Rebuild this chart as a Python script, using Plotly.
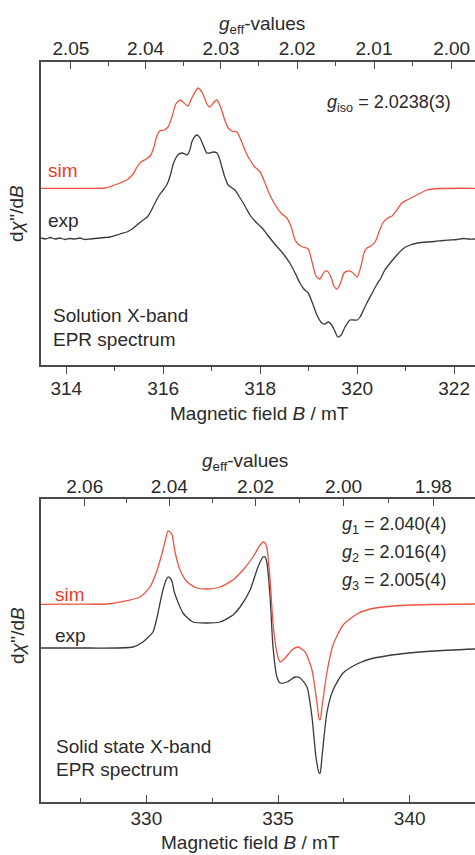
import plotly.graph_objects as go

W, H = 475, 855

# ---------------- Solution X-band spectrum (top panel) ----------------
sol_field_sim = [313.48, 314.28, 314.80, 314.94, 315.11, 315.25, 315.38, 315.46, 315.54, 315.65,
                 315.73, 315.81, 315.87, 315.93, 316.02, 316.10, 316.18, 316.26, 316.35, 316.43,
                 316.51, 316.59, 316.72, 316.82, 316.90, 316.96, 317.05, 317.11, 317.19, 317.27,
                 317.34, 317.42, 317.52, 317.62, 317.71, 317.79, 317.89, 318.00, 318.10, 318.20,
                 318.35, 318.45, 318.55, 318.64, 318.72, 318.80, 318.88, 318.99, 319.07, 319.15,
                 319.23, 319.32, 319.38, 319.46, 319.52, 319.58, 319.65, 319.73, 319.81, 319.89,
                 320.00, 320.08, 320.14, 320.20, 320.28, 320.37, 320.45, 320.53, 320.63, 320.72,
                 320.82, 320.92, 321.03, 321.19, 321.44, 321.71, 322.43]
sol_sim = [49.7, 49.7, 50, 52, 55, 58, 64, 71, 76, 79,
           82, 91, 102, 107, 108, 111, 121, 134, 138, 135,
           132, 140, 150, 144, 134, 131, 136, 138, 130, 118,
           110, 107, 106, 96, 85, 78, 71, 66, 55, 43,
           30, 24, 20, 11, -2, -7, -9, -11, -24, -38,
           -41, -34, -33, -39, -48, -51, -46, -35, -33, -34,
           -39, -28, -15, -10, -8, -4, 6, 15, 20, 22,
           28, 35, 38, 42, 48, 49.5, 49.7]

sol_field_exp = [313.48, 313.58, 313.67, 313.77, 313.87, 313.97, 314.08, 314.18, 314.28, 314.39,
                 314.49, 314.59, 314.70, 314.80, 314.90, 315.01, 315.11, 315.25, 315.36, 315.46,
                 315.56, 315.67, 315.75, 315.83, 315.91, 316.00, 316.06, 316.10, 316.16, 316.20,
                 316.26, 316.30, 316.39, 316.45, 316.49, 316.55, 316.59, 316.66, 316.70, 316.76,
                 316.84, 316.90, 316.96, 317.03, 317.11, 317.17, 317.21, 317.27, 317.34, 317.42,
                 317.48, 317.56, 317.65, 317.73, 317.79, 317.89, 318.04, 318.12, 318.20, 318.30,
                 318.41, 318.51, 318.61, 318.72, 318.82, 318.90, 318.99, 319.07, 319.17, 319.27,
                 319.34, 319.40, 319.46, 319.54, 319.60, 319.67, 319.75, 319.85, 319.93, 320.00,
                 320.06, 320.14, 320.20, 320.31, 320.41, 320.49, 320.57, 320.68, 320.82, 320.94,
                 321.09, 321.25, 321.44, 321.60, 321.77, 321.91, 322.06, 322.18, 322.31, 322.43]
sol_exp = [0, -1, 0.5, -1, 0, -1.5, -0.5, -1, 0, -1.5,
           -1, -0.5, 0, 0.5, 1, 2.5, 4, 6, 9, 13,
           17, 21, 27, 35, 42, 48, 52, 56, 65, 73,
           80, 83, 85, 84, 83, 88, 96, 102, 103, 100,
           91, 85, 85, 86, 85, 78, 71, 61, 53, 50,
           48, 42, 35, 28, 23, 17, 10, 5, 0, -6,
           -12, -18, -25, -35, -45, -51, -55, -64, -77, -85,
           -86, -84, -86, -93, -99, -97, -89, -82, -82, -82,
           -79, -71, -65, -55, -46, -40, -32, -25, -17, -11,
           -7, -5, -4, -3.5, -2.5, -2, -1.5, -0.5, -1, -1]

# ---------------- Solid state X-band spectrum (bottom panel) ----------------
ss_field_sim = [326.00, 327.48, 328.51, 329.27, 329.76, 330.14, 330.41, 330.60, 330.75, 330.82,
                330.90, 330.98, 331.09, 331.28, 331.55, 331.92, 332.30, 332.80, 333.29, 333.67,
                334.05, 334.32, 334.43, 334.51, 334.58, 334.70, 334.81, 334.96, 335.08, 335.27,
                335.53, 335.76, 336.03, 336.29, 336.48, 336.56, 336.60, 336.67, 336.86, 337.09,
                337.47, 338.00, 338.50, 339.37, 340.77, 342.48]
ss_sim = [43.7, 43.8, 44, 47.3, 51, 61, 78, 95, 111, 117,
          116, 113, 96, 78, 66, 60, 59, 61, 68, 78,
          91, 103, 106, 105, 100, 68, 25, -5, -14, -10,
          -2, 1, -4, -22, -55, -71, -72, -59, -24, 3,
          23, 34, 39, 42, 43.5, 44]

ss_field_exp = [326.00, 327.48, 329.49, 329.87, 330.25, 330.41, 330.52, 330.63, 330.75, 330.82,
                330.90, 330.98, 331.05, 331.17, 331.39, 331.77, 332.30, 332.80, 333.29, 333.56,
                333.94, 334.24, 334.43, 334.51, 334.58, 334.70, 334.81, 334.96, 335.08, 335.34,
                335.65, 335.84, 336.10, 336.29, 336.44, 336.56, 336.60, 336.67, 336.86, 337.09,
                337.47, 338.00, 338.50, 339.63, 340.89, 342.48]
ss_exp = [0, 0, 1, 6, 16, 31, 45, 58, 68, 71,
          70, 66, 57, 48, 35, 26, 25, 26, 33, 41,
          58, 81, 91, 91, 85, 51, 1, -29, -35, -34,
          -29, -30, -39, -69, -109, -125, -125, -109, -64, -42,
          -25, -16, -11, -6, -3, -1]

# ---------------- g-value axes ----------------
sol_g_major = [2.05, 2.04, 2.03, 2.02, 2.01, 2.00]
sol_g_minor = [2.045, 2.035, 2.025, 2.015, 2.005]
ss_g_major = [2.06, 2.04, 2.02, 2.00, 1.98]
ss_g_minor = [2.05, 2.03, 2.01, 1.99]
nu_sol = 9.012   # GHz
nu_ss = 9.447    # GHz
MUB_OVER_H = 13.996  # GHz/T


def g_to_field(g, nu):
    return 1000.0 * nu / (MUB_OVER_H * g)


sol_range = [313.48, 322.43]
ss_range = [326.0, 342.48]

SIM = "#f0533f"
SIM_TXT = "#ea3a2c"
EXP = "#3a3a3a"
AX = "#4a4a4a"
TXT = "#2a2a2a"
FONT = "Liberation Sans, Arial, sans-serif"
FS = 19


def px(x):
    return x / W


def py(y):
    return 1 - y / H


fig = go.Figure()
ls = dict(width=1.3, shape="spline", smoothing=0.6)
fig.add_trace(go.Scatter(x=sol_field_exp, y=sol_exp, mode="lines", line=dict(color=EXP, **ls),
                         xaxis="x", yaxis="y", showlegend=False))
fig.add_trace(go.Scatter(x=sol_field_sim, y=sol_sim, mode="lines", line=dict(color=SIM, **ls),
                         xaxis="x", yaxis="y", showlegend=False))
fig.add_trace(go.Scatter(x=sol_range, y=[None, None], mode="lines", xaxis="x2", yaxis="y",
                         showlegend=False, hoverinfo="skip"))
fig.add_trace(go.Scatter(x=ss_field_exp, y=ss_exp, mode="lines", line=dict(color=EXP, **ls),
                         xaxis="x3", yaxis="y2", showlegend=False))
fig.add_trace(go.Scatter(x=ss_field_sim, y=ss_sim, mode="lines", line=dict(color=SIM, **ls),
                         xaxis="x3", yaxis="y2", showlegend=False))
fig.add_trace(go.Scatter(x=ss_range, y=[None, None], mode="lines", xaxis="x4", yaxis="y2",
                         showlegend=False, hoverinfo="skip"))

xdom = [41 / W, 1]
common = dict(showline=True, linecolor=AX, linewidth=1.6, showgrid=False, zeroline=False,
              tickcolor=AX, tickwidth=1.4, tickfont=dict(size=FS, color=TXT, family=FONT))

fig.update_layout(
    width=W, height=H, margin=dict(l=0, r=0, t=0, b=0),
    plot_bgcolor="white", paper_bgcolor="white",
    font=dict(family=FONT, color=TXT, size=FS),
    xaxis=dict(domain=xdom, anchor="y", range=sol_range, tickmode="linear", tick0=0, dtick=2,
               ticks="outside", ticklen=7, ticklabelstandoff=-2,
               minor=dict(dtick=1, tick0=0, ticks="outside", ticklen=4, tickcolor=AX, tickwidth=1.4),
               **common),
    xaxis2=dict(overlaying="x", side="top", anchor="y", range=sol_range, tickmode="array",
                tickvals=[g_to_field(g, nu_sol) for g in sol_g_major],
                ticktext=[f"{g:.2f}" for g in sol_g_major],
                ticks="inside", ticklen=7, ticklabelstandoff=-2,
                minor=dict(tickvals=[g_to_field(g, nu_sol) for g in sol_g_minor], ticks="inside",
                           ticklen=4, tickcolor=AX, tickwidth=1.4),
                **common),
    yaxis=dict(domain=[py(365), py(62)], anchor="x", range=[-127, 176], showline=True,
               linecolor=AX, linewidth=1.6, ticks="", showticklabels=False, showgrid=False,
               zeroline=False),
    xaxis3=dict(domain=xdom, anchor="y2", range=ss_range, tickmode="linear", tick0=0, dtick=5,
                ticks="inside", ticklen=7, ticklabelstandoff=-2,
                minor=dict(dtick=2.5, tick0=0, ticks="inside", ticklen=4, tickcolor=AX, tickwidth=1.4),
                **common),
    xaxis4=dict(overlaying="x3", side="top", anchor="y2", range=ss_range, tickmode="array",
                tickvals=[g_to_field(g, nu_ss) for g in ss_g_major],
                ticktext=[f"{g:.2f}" for g in ss_g_major],
                ticks="inside", ticklen=7, ticklabelstandoff=-3,
                minor=dict(tickvals=[g_to_field(g, nu_ss) for g in ss_g_minor], ticks="inside",
                           ticklen=4, tickcolor=AX, tickwidth=1.4),
                **common),
    yaxis2=dict(domain=[py(802), py(499)], anchor="x3", range=[-154, 149], showline=True,
                linecolor=AX, linewidth=1.6, ticks="", showticklabels=False, showgrid=False,
                zeroline=False),
)


def note(text, x, y, size=FS, color=TXT, xanchor="left", angle=0):
    fig.add_annotation(text=text, x=px(x), y=py(y), xref="paper", yref="paper",
                       xanchor=xanchor, yanchor="middle", showarrow=False, textangle=angle,
                       font=dict(size=size, color=color, family=FONT))


# top panel texts
note("<i>g</i><sub>eff</sub>-values", 262, 25, xanchor="center")
note("Magnetic field <i>B</i> / mT", 259, 414, xanchor="center")
note("d<i>χ</i>''/d<i>B</i>", 17, 214, xanchor="center", angle=-90)
note("<i>g</i><sub>iso</sub> = 2.0238(3)", 325, 103, size=18)
note("sim", 46, 171, color=SIM_TXT)
note("exp", 46, 220)
note("Solution X-band", 51, 315)
note("EPR spectrum", 51, 339)

# bottom panel texts
note("<i>g</i><sub>eff</sub>-values", 245, 462, xanchor="center")
note("Magnetic field <i>B</i> / mT", 250, 842, xanchor="center")
note("d<i>χ</i>''/d<i>B</i>", 17, 636, xanchor="center", angle=-90)
note("<i>g</i><sub>1</sub> = 2.040(4)", 449, 525, xanchor="right", size=18)
note("<i>g</i><sub>2</sub> = 2.016(4)", 449, 553, xanchor="right", size=18)
note("<i>g</i><sub>3</sub> = 2.005(4)", 449, 581, xanchor="right", size=18)
note("sim", 53, 594, color=SIM_TXT)
note("exp", 53, 635)
note("Solid state X-band", 54, 746)
note("EPR spectrum", 54, 769)

fig.write_html("out.html", config={"displayModeBar": False},
               post_script="document.body.style.margin='0';document.body.style.overflow='hidden';")
